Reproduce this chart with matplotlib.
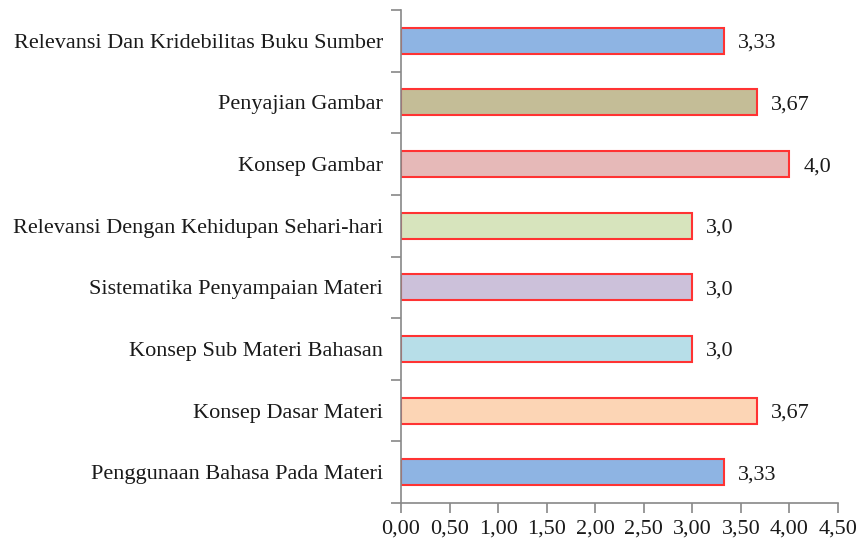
import matplotlib
matplotlib.use("Agg")
import matplotlib.pyplot as plt
import numpy as np
from matplotlib.ticker import FixedLocator, NullFormatter

categories = [
    "Penggunaan Bahasa Pada Materi",
    "Konsep Dasar Materi",
    "Konsep Sub Materi Bahasan",
    "Sistematika Penyampaian Materi",
    "Relevansi Dengan Kehidupan Sehari-hari",
    "Konsep Gambar",
    "Penyajian Gambar",
    "Relevansi Dan Kridebilitas Buku Sumber",
]
values = [3.33, 3.67, 3.0, 3.0, 3.0, 4.0, 3.67, 3.33]
value_labels = ["3,33", "3,67", "3,0", "3,0", "3,0", "4,0", "3,67", "3,33"]
colors = ["#8EB4E3", "#FCD5B5", "#B7DEE8", "#CCC1DA", "#D7E4BD", "#E6B9B8", "#C4BD97", "#8EB4E3"]
xticks = [0, 0.5, 1.0, 1.5, 2.0, 2.5, 3.0, 3.5, 4.0, 4.5]
xtick_labels = ["0,00", "0,50", "1,00", "1,50", "2,00", "2,50", "3,00", "3,50", "4,00", "4,50"]

plt.rcParams['font.family'] = ['Liberation Serif', 'DejaVu Serif']

fig = plt.figure(figsize=(8.61, 5.43), dpi=100)
ax = fig.add_axes([401/861, 40/543, 437/861, 493/543])

y = np.arange(len(categories))
ax.barh(y, values, height=0.42, color=colors, edgecolor="#FF3333", linewidth=1.5)

for yi, v, lab in zip(y, values, value_labels):
    ax.annotate(lab, (v, yi), xytext=(10, 0), textcoords="offset points",
                va="center_baseline", ha="left", fontsize=16, color="#1a1a1a")

ax.set_xlim(0, 4.5)
ax.set_ylim(-0.5, len(categories) - 0.5)
ax.set_xticks(xticks)
ax.set_xticklabels(xtick_labels, fontsize=16, color="#1a1a1a")
ax.set_yticks(y)
ax.set_yticklabels(categories, fontsize=16, color="#1a1a1a")
ax.tick_params(axis="y", which="major", length=0, pad=13)
ax.yaxis.set_minor_locator(FixedLocator(np.arange(-0.5, len(categories), 1.0)))
ax.yaxis.set_minor_formatter(NullFormatter())
ax.tick_params(axis="y", which="minor", length=7, color="#888888", width=1.2)
ax.tick_params(axis="x", length=7, color="#888888", width=1.2, pad=5)

for s in ["top", "right"]:
    ax.spines[s].set_visible(False)
for s in ["left", "bottom"]:
    ax.spines[s].set_color("#888888")
    ax.spines[s].set_linewidth(1.2)

fig.savefig("out.png", dpi=100)
